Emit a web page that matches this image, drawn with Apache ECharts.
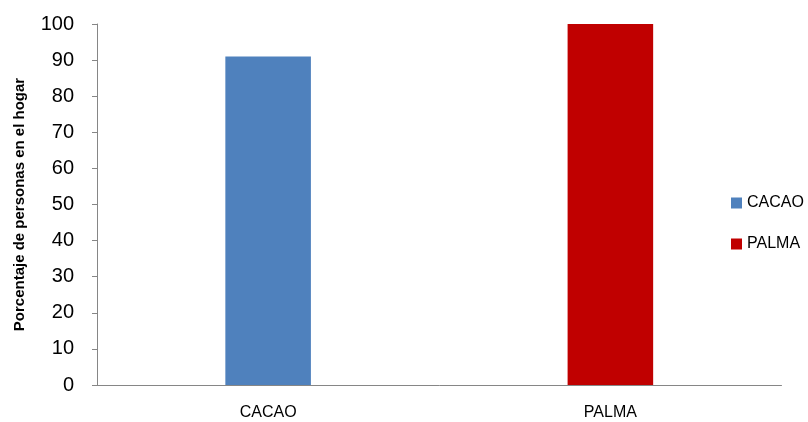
<!DOCTYPE html>
<html>
<head>
<meta charset="utf-8">
<script src="https://cdn.jsdelivr.net/npm/echarts@6/dist/echarts.min.js"></script>
<style>html,body{margin:0;padding:0;background:#fff}#c{width:808px;height:422px}</style>
</head>
<body>
<div id="c"></div>
<script>
var categories = ['CACAO', 'PALMA'];
var seriesNames = ['CACAO', 'PALMA'];
var cacaoValues = [91, '-'];
var palmaValues = ['-', 100];
var seriesColors = ['#4F81BD', '#C00000'];
var yAxisName = 'Porcentaje de personas en el hogar';

var chart = echarts.init(document.getElementById('c'), null, {renderer: 'canvas'});
var font = 'Liberation Sans';
chart.setOption({
  animation: false,
  backgroundColor: '#fff',
  grid: {left: 97, right: 26.5, top: 24, bottom: 37},
  legend: {
    orient: 'vertical',
    left: 726,
    top: 190,
    itemWidth: 11,
    itemHeight: 11,
    itemGap: 25,
    icon: 'rect',
    textStyle: {fontFamily: font, fontSize: 16, color: '#000'},
    data: seriesNames
  },
  xAxis: {
    type: 'category',
    data: categories,
    axisLine: {lineStyle: {color: '#868686', width: 1}},
    axisTick: {show: false},
    axisLabel: {fontFamily: font, fontSize: 16, color: '#000', margin: 20}
  },
  yAxis: {
    type: 'value',
    min: 0, max: 100, interval: 10,
    name: yAxisName,
    nameLocation: 'middle',
    nameGap: 70,
    nameTextStyle: {fontFamily: font, fontSize: 15, fontWeight: 'bold', color: '#000'},
    axisLine: {show: true, lineStyle: {color: '#868686', width: 1}},
    axisTick: {show: true, length: 5, lineStyle: {color: '#868686'}},
    splitLine: {show: false},
    axisLabel: {fontFamily: font, fontSize: 20, color: '#000', margin: 23}
  },
  series: [
    {name: seriesNames[0], type: 'bar', stack: 'a', barWidth: '25%', data: cacaoValues, itemStyle: {color: seriesColors[0]}},
    {name: seriesNames[1], type: 'bar', stack: 'a', barWidth: '25%', data: palmaValues, itemStyle: {color: seriesColors[1]}}
  ]
});
</script>
</body>
</html>
